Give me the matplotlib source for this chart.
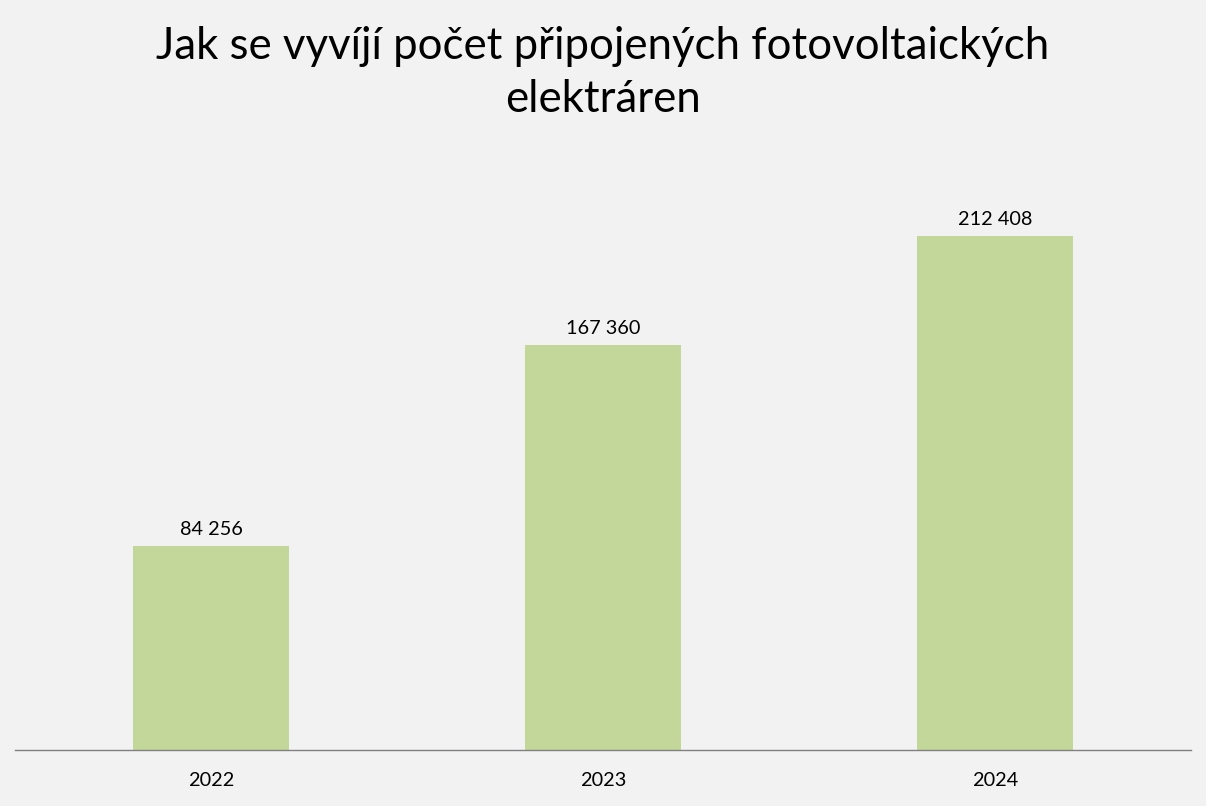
import matplotlib
matplotlib.use('Agg')
import matplotlib.pyplot as plt

# data
years = ['2022', '2023', '2024']
counts = [84256, 167360, 212408]

title = 'Jak se vyvíjí počet připojených fotovoltaických\nelektráren'

bg = '#F2F2F2'
bar_color = '#C4D79B'

plt.rcParams['font.family'] = ['Lato', 'DejaVu Sans']

fig = plt.figure(figsize=(12.06, 8.06), dpi=100, facecolor=bg)
ax = fig.add_axes([15 / 1206, (806 - 750) / 806, 1176 / 1206, 605 / 806])
ax.set_facecolor(bg)

x = range(len(years))
bars = ax.bar(x, counts, width=0.4, color=bar_color, zorder=2)

ax.set_xlim(-0.5, len(years) - 0.5)
ax.set_ylim(0, 250000)

# value labels with space as thousands separator
for rect, v in zip(bars, counts):
    ax.annotate(f'{v:,}'.replace(',', ' '),
                (rect.get_x() + rect.get_width() / 2, v),
                xytext=(0, 6), textcoords='offset points',
                ha='center', va='bottom', fontsize=14.3, color='black')

ax.set_xticks(list(x))
ax.set_xticklabels(years, fontsize=14.3)
ax.tick_params(axis='x', length=0, pad=16)
ax.set_yticks([])

for s in ['top', 'right', 'left']:
    ax.spines[s].set_visible(False)
ax.spines['bottom'].set_color('#808080')
ax.spines['bottom'].set_linewidth(1)

fig.text(0.5, 1 - 73 / 806, title, ha='center', va='center',
         fontsize=31.5, linespacing=1.38, color='black')

fig.savefig('out.png', dpi=100, facecolor=bg)
plt.close(fig)
